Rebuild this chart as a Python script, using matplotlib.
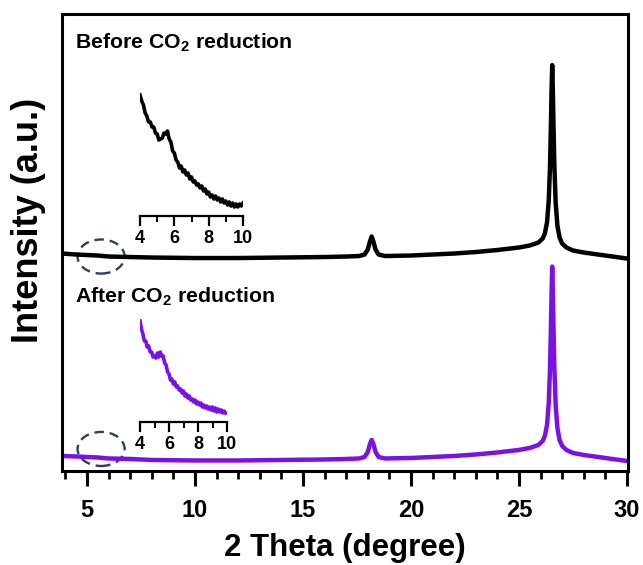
import matplotlib
matplotlib.use("Agg")
import matplotlib.pyplot as plt
from matplotlib.patches import Ellipse
from matplotlib.ticker import MultipleLocator

plt.rcParams["font.family"] = ["Liberation Sans", "DejaVu Sans"]
plt.rcParams["font.weight"] = "bold"
plt.rcParams["mathtext.fontset"] = "custom"
plt.rcParams["mathtext.rm"] = "Liberation Sans:bold"
plt.rcParams["mathtext.bf"] = "Liberation Sans:bold"

# ---- XRD patterns (2 theta in degrees, intensity in a.u.) ----
two_theta = [3.85, 4.5, 5.0, 5.5, 6.0, 7.0, 8.0, 10.0, 12.0, 14.0, 16.0, 17.0,
             17.6, 17.85, 18.0, 18.1, 18.18, 18.26, 18.36, 18.5, 18.8, 20.0,
             21.0, 22.0, 23.0, 24.0, 25.0, 25.5, 25.9, 26.1, 26.2, 26.3,
             26.38, 26.44, 26.48, 26.51, 26.54, 26.57, 26.6, 26.64, 26.7,
             26.78, 26.88, 27.0, 27.2, 27.5, 28.0, 29.0, 30.0]

before = [17, 16, 15.5, 15, 14, 13.5, 13, 12.5, 12.5, 13, 13.5, 14,
          14.5, 16, 21, 29, 34, 29, 21, 16, 14.5, 15,
          16, 17, 18.5, 20.5, 23, 25, 28, 32, 37, 48,
          70, 105, 145, 180, 205, 180, 145, 105, 68,
          45, 33, 27, 23, 20, 18, 15, 12]

after = [15, 14.5, 14, 13.5, 12.5, 12, 11, 10.5, 10.5, 11, 11.5, 12,
         12.5, 14, 19, 27, 31, 27, 19, 14, 12.5, 13,
         14, 15, 16.5, 18.5, 21, 23, 26, 30, 35, 46,
         68, 103, 143, 178, 204, 178, 143, 103, 66,
         43, 31, 25, 21, 18, 16, 13, 10]

before_offset = 200

# ---- low-angle region (insets) ----
inset_theta = [4.0 + 0.1 * i for i in range(61)]
inset_before = [121, 115, 111, 103, 100, 94, 94, 89, 89, 83, 82, 76, 77, 78,
                83, 82, 85, 77, 74, 65, 63, 56, 54, 48, 50, 44, 46, 41, 43,
                37, 39, 34, 35, 31, 32, 28, 30, 25, 27, 22, 24, 19, 21, 17,
                20, 16, 18, 14, 17, 13, 15, 11, 14, 10, 13, 9, 12, 9, 12,
                10, 13]
inset_after = [101, 93, 88, 81, 81, 75, 76, 70, 70, 65, 66, 64, 69, 65, 70,
               66, 66, 59, 57, 50, 48, 42, 43, 38, 40, 35, 36, 32, 33, 29,
               31, 26, 28, 24, 26, 22, 23, 20, 22, 18, 20, 17, 19, 15, 17,
               14, 16, 13, 15, 12, 15, 11, 14, 10, 13, 10, 12, 9, 11, 9]
inset_ticks = [4, 6, 8, 10]

label_before = r"Before CO$_{\mathbf{2}}$ reduction"
label_after = r"After CO$_{\mathbf{2}}$ reduction"

BLACK = "#000000"
PURPLE = "#7A12E8"
NAVY = "#2B3F5F"

W, H = 643, 565
fig = plt.figure(figsize=(W / 100, H / 100), dpi=100)


def box(left, top, right, bottom):
    return [left / W, 1 - bottom / H, (right - left) / W, (bottom - top) / H]


ax = fig.add_axes(box(62, 14, 628, 471))
ax.plot(two_theta, [v + before_offset for v in before], color=BLACK, lw=3.2,
        solid_joinstyle="round")
ax.plot(two_theta, after, color=PURPLE, lw=3.2, solid_joinstyle="round")
ax.set_xlim(3.84, 30.05)
ax.set_ylim(0, 456)
ax.set_yticks([])
ax.xaxis.set_major_locator(MultipleLocator(5))
ax.xaxis.set_minor_locator(MultipleLocator(1))
ax.tick_params(axis="x", which="major", direction="out", length=11, width=2.2,
               labelsize=17, pad=9)
ax.tick_params(axis="x", which="minor", direction="out", length=6, width=2.0)
for s in ax.spines.values():
    s.set_linewidth(2.2)
for lab in ax.get_xticklabels():
    lab.set_fontweight("bold")
ax.set_xlabel("2 Theta (degree)", fontsize=22.5, fontweight="bold", labelpad=8)
ax.set_ylabel("Intensity (a.u.)", fontsize=26, fontweight="bold")
ax.yaxis.set_label_coords(-33 / 566, (471 - 220) / 457)
ax.yaxis.label.set_va("center")
ax.yaxis.label.set_ha("center")

# dashed ellipses marking the low-angle region
for cy in (214, 22):
    ax.add_patch(Ellipse((5.65, cy), 2.18, 34, fill=False, ec=NAVY, lw=1.7,
                         ls=(0, (4, 2.5))))

ax.text(75 / W, 1 - 43 / H, label_before, transform=fig.transFigure,
        fontsize=15.3, fontweight="bold", va="center", ha="left")
ax.text(75 / W, 1 - 297 / H, label_after, transform=fig.transFigure,
        fontsize=15.3, fontweight="bold", va="center", ha="left")


def inset(rect, y, color, ymax):
    a = fig.add_axes(rect)
    a.plot(inset_theta[:len(y)], y, color=color, lw=2.6)
    a.set_xlim(4, 10)
    a.set_ylim(0, ymax)
    a.patch.set_alpha(0)
    for k in ("top", "left", "right"):
        a.spines[k].set_visible(False)
    a.spines["bottom"].set_linewidth(1.6)
    a.set_yticks([])
    a.set_xticks(inset_ticks)
    a.xaxis.set_minor_locator(MultipleLocator(1))
    a.tick_params(axis="x", which="major", direction="out", length=7, width=1.6,
                  labelsize=13, pad=3)
    a.tick_params(axis="x", which="minor", direction="out", length=4, width=1.4)
    for lab in a.get_xticklabels():
        lab.set_fontweight("bold")
    return a


inset(box(140, 91, 243, 216), inset_before, BLACK, 125)
inset(box(140, 317, 227, 422), inset_after, PURPLE, 105)

fig.savefig("out.png", dpi=100)
